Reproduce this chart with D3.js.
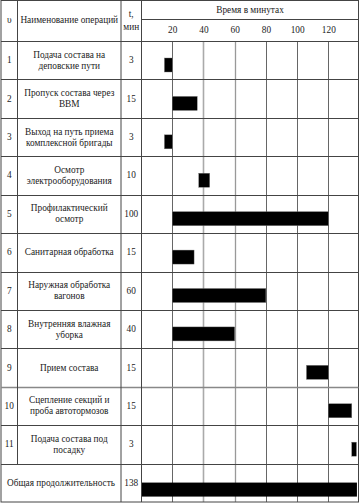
<!DOCTYPE html>
<html><head><meta charset="utf-8">
<script src="https://cdn.jsdelivr.net/npm/d3@7"></script>
<style>html,body{margin:0;padding:0;background:#fff;}svg{display:block;}
text{font-family:"Liberation Serif","Times New Roman",serif;}</style>
</head><body>
<script>
const nums = [1,2,3,4,5,6,7,8,9,10,11];
const names = [
  ["Подача состава на","деповские пути"],
  ["Пропуск состава через","ВВМ"],
  ["Выход на путь приема","комплексной бригады"],
  ["Осмотр","электрооборудования"],
  ["Профилактический","осмотр"],
  ["Санитарная обработка"],
  ["Наружная обработка","вагонов"],
  ["Внутренняя влажная","уборка"],
  ["Прием состава"],
  ["Сцепление секций и","проба автотормозов"],
  ["Подача состава под","посадку"]
];
const durations = [3,15,3,10,100,15,60,40,15,15,3];
const starts = [15,20,15,37,20,20,20,20,106,120,135];
const ends   = [20,36,20,44,120,34,80,60,120,135,138];
const totalLabel = "Общая продолжительность";
const totalDuration = 138;
const totalStart = 0, totalEnd = 138;
const tickValues = [20,40,60,80,100,120];
const headers = {num:"υ", name:"Наименование операций", t1:"t,", t2:"мин", time:"Время в минутах"};

const W = 361, H = 503;
const svg = d3.select("body").append("svg").attr("width",W).attr("height",H);
const fs = 9.3;
const tc = "#222", lc = "#444";

const L = 1, C1 = 17.5, C2 = 121, C3 = 141.5, R = 358.5;
const T = 0.5, HS = 19.5, HB = 41, B = 502;

const x = d3.scaleLinear().domain([0,139]).range([141,358]);
const rowsIdx = d3.range(12);
const y = d3.scaleBand().domain(rowsIdx).range([HB,B]);

// vertical grid lines
const gridStyle = {20:["#666",1],40:["#aaa",1.6],60:["#999",1.3],80:["#666",1],100:["#666",1],120:["#666",1]};
svg.append("g").selectAll("line").data(tickValues).join("line")
  .attr("x1",d=>Math.round(x(d))+0.5).attr("x2",d=>Math.round(x(d))+0.5)
  .attr("y1",HB).attr("y2",B)
  .attr("stroke",d=>gridStyle[d][0]).attr("stroke-width",d=>gridStyle[d][1]);

// bars
const barOff = 17, barH = 14;
svg.append("g").selectAll("rect").data(nums.map((n,i)=>i)).join("rect")
  .attr("x",i=>x(starts[i])).attr("width",i=>x(ends[i])-x(starts[i]))
  .attr("y",i=>y(i)+barOff).attr("height",barH)
  .attr("fill","#000").attr("stroke","#777").attr("stroke-width",0.4);
svg.append("rect")
  .attr("x",x(totalStart)+0.5).attr("width",x(totalEnd)-x(totalStart))
  .attr("y",y(11)+barOff+2).attr("height",barH)
  .attr("fill","#000");

// table lines
const g = svg.append("g").attr("stroke",lc).attr("stroke-width",1).attr("fill","none");
g.append("rect").attr("x",L).attr("y",T).attr("width",R-L).attr("height",B-T);
g.append("line").attr("x1",C3).attr("x2",R).attr("y1",HS).attr("y2",HS);
rowsIdx.forEach(i=>{
  const yy = Math.round(y(i))+0.5;
  g.append("line").attr("x1",L).attr("x2",R).attr("y1",yy).attr("y2",yy)
   .attr("stroke", i===9 ? "#888" : lc).attr("stroke-width", i===9 ? 1.6 : 1);
});
const lastTop = Math.round(y(11))+0.5;
g.append("line").attr("x1",C1).attr("x2",C1).attr("y1",T).attr("y2",lastTop);
g.append("line").attr("x1",C2).attr("x2",C2).attr("y1",T).attr("y2",B);
g.append("line").attr("x1",C3).attr("x2",C3).attr("y1",T).attr("y2",B);

// texts
const txt = (xx,yy,s,anchor="middle") => svg.append("text").attr("x",xx).attr("y",yy)
  .attr("text-anchor",anchor).attr("dominant-baseline","central")
  .attr("font-size",fs).attr("fill",tc).text(s);

txt((L+C1)/2, 20, headers.num);
txt((C1+C2)/2, 20, headers.name);
txt((C2+C3)/2, 14, headers.t1);
txt((C2+C3)/2, 26.5, headers.t2);
txt((C3+R)/2, 10, headers.time);

// tick labels via axis
const ax = svg.append("g").attr("transform",`translate(0,${(HS+HB)/2})`)
  .call(d3.axisBottom(x).tickValues(tickValues).tickSize(0).tickPadding(0));
ax.select(".domain").remove();
ax.attr("font-family",null);
ax.selectAll("text").attr("font-size",fs).attr("fill",tc)
  .attr("y",0).attr("dy",null).attr("dominant-baseline","central");

nums.forEach((n,i)=>{
  const cy = y(i)+y.bandwidth()/2;
  txt((L+C1)/2, cy, n);
  const lines = names[i];
  lines.forEach((s,k)=>{
    const off = lines.length===1 ? 0 : (k===0 ? -5.5 : 5.5);
    txt((C1+C2)/2, cy+off, s);
  });
  txt((C2+C3)/2, cy, durations[i]);
});
const cyT = y(11)+y.bandwidth()/2;
txt((L+C2)/2, cyT, totalLabel);
txt((C2+C3)/2, cyT, totalDuration);
</script>
</body></html>
